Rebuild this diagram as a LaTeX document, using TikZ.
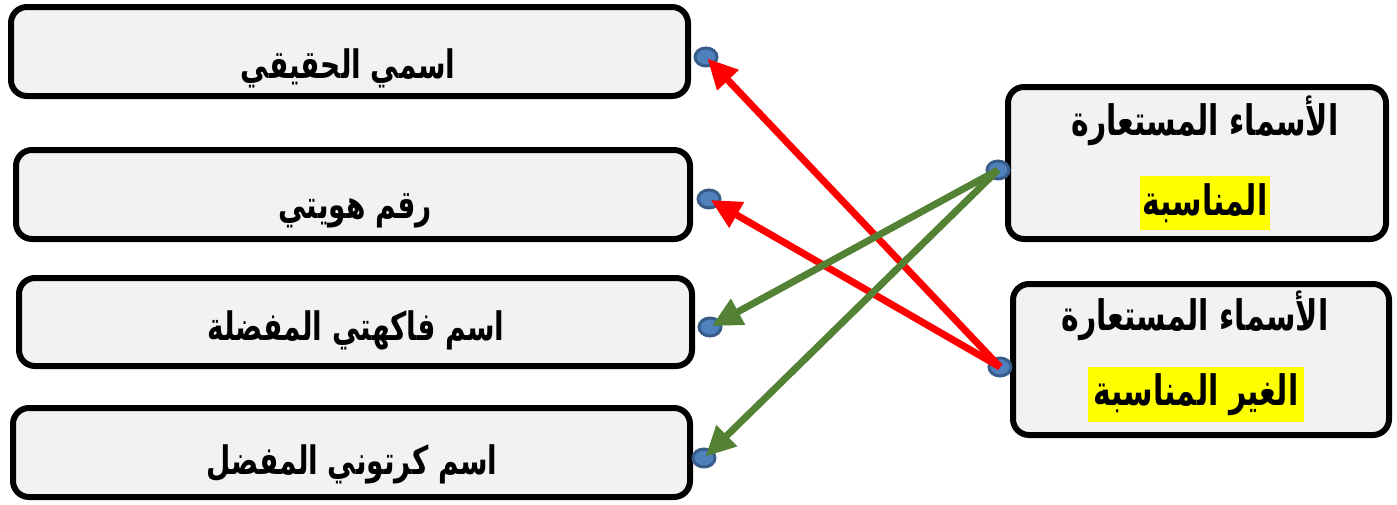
\documentclass[tikz,border=0pt]{standalone}
\usepackage{fontspec}
\usepackage{graphicx}
\newfontfamily\arabicfont[Script=Arabic]{DejaVu Sans}
\TeXXeTstate=1
\usetikzlibrary{shapes.geometric,arrows.meta}
\definecolor{boxfill}{RGB}{242,242,242}
\definecolor{dotfill}{RGB}{79,129,189}
\definecolor{dotline}{RGB}{56,93,138}
\definecolor{arrred}{RGB}{255,0,0}
\definecolor{arrgreen}{RGB}{84,130,53}
\definecolor{hl}{RGB}{255,255,0}
\newcommand{\artxt}[1]{\scalebox{1}[1.4]{\beginR #1\endR}}
\begin{document}
\begin{tikzpicture}[x=1pt,y=-1pt,
  boxstyle/.style={draw=black,line width=6pt,fill=boxfill,rounded corners=16pt,inner sep=0pt},
  txt/.style={font=\arabicfont\bfseries\fontsize{28}{32}\selectfont,inner sep=0pt,anchor=base},
  rtxt/.style={font=\arabicfont\bfseries\fontsize{30}{34}\selectfont,inner sep=0pt,anchor=base},
  hltxt/.style={rtxt,fill=hl,inner xsep=2pt,inner ysep=0pt,anchor=center},
  dotstyle/.style={ellipse,draw=dotline,line width=3pt,fill=dotfill,minimum width=22pt,minimum height=18pt,inner sep=0pt},
  redarrow/.style={draw=arrred,line width=7pt,shorten >=2pt,-{Triangle[length=30pt,width=28pt]}},
  greenarrow/.style={draw=arrgreen,line width=7pt,shorten >=2pt,-{Triangle[length=30pt,width=28pt]}}]
\useasboundingbox (0,0) rectangle (1397,504);
% left boxes
\node[boxstyle,minimum width=677pt,minimum height=89pt] (b1) at (349.5,51.5) {};
\node[boxstyle,minimum width=674pt,minimum height=89pt] (b2) at (353,194.5) {};
\node[boxstyle,minimum width=673pt,minimum height=88pt] (b3) at (355.5,322) {};
\node[boxstyle,minimum width=677pt,minimum height=89pt] (b4) at (351.5,452.5) {};
% right boxes
\node[boxstyle,minimum width=378pt,minimum height=152pt] (bA) at (1197,163) {};
\node[boxstyle,minimum width=376pt,minimum height=151pt] (bB) at (1201,359.5) {};
% texts
\node[txt] (t1) at (348,78) {\artxt{اسمي الحقيقي}};
\node[txt] (t2) at (355,218) {\artxt{رقم هويتي}};
\node[txt] (t3) at (356,340) {\artxt{اسم فاكهتي المفضلة}};
\node[txt] (t4) at (352,474) {\artxt{اسم كرتوني المفضل}};
\node[rtxt] (tA1) at (1205,135) {\artxt{الأسماء المستعارة}};
\node[hltxt,minimum height=54pt,minimum width=130pt] (tA2) at (1205,203) {\artxt{المناسبة}};
\node[rtxt] (tB1) at (1195,330) {\artxt{الأسماء المستعارة}};
\node[hltxt,minimum height=55pt,minimum width=216pt] (tB2) at (1196,394.5) {\artxt{الغير المناسبة}};
% dots
\node[dotstyle] (d1) at (706,57) {};
\node[dotstyle] (d2) at (709,199) {};
\node[dotstyle] (d3) at (710,327) {};
\node[dotstyle] (d4) at (704,458) {};
\node[dotstyle] (dA) at (998,170) {};
\node[dotstyle] (dB) at (1000,367) {};
% arrows
\draw[redarrow] (dB.center) -- (d1.center);
\draw[redarrow] (dB.center) -- (d2.center);
\draw[greenarrow] (dA.center) -- (d3.center);
\draw[greenarrow] (dA.center) -- (d4.center);
\end{tikzpicture}
\end{document}
